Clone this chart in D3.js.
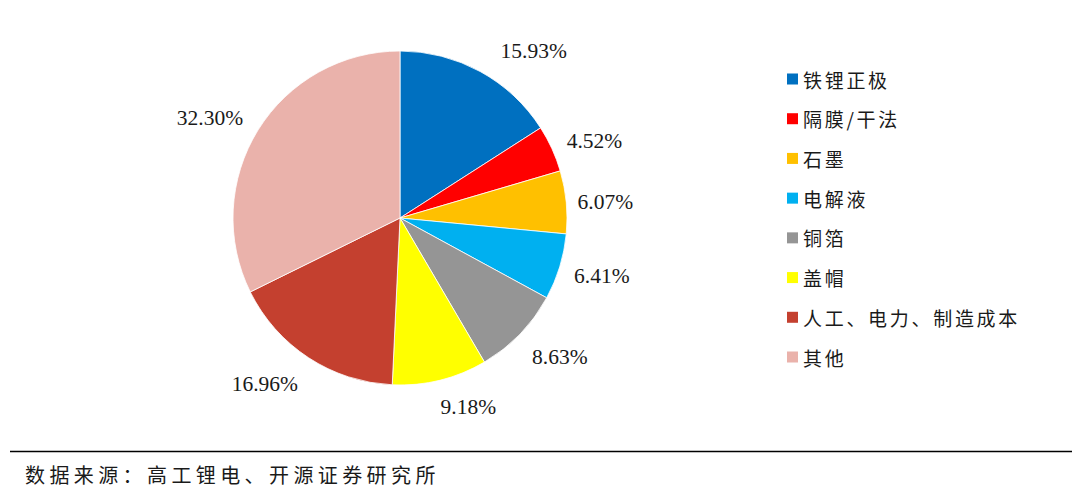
<!DOCTYPE html>
<html>
<head>
<meta charset="utf-8">
<script src="https://cdn.jsdelivr.net/npm/d3@7"></script>
<style>
  html, body { margin: 0; padding: 0; background: #ffffff; }
  svg { display: block; }
</style>
</head>
<body>
<svg id="chart" width="1080" height="498"></svg>
<script>
const categories = ["铁锂正极", "隔膜/干法", "石墨", "电解液", "铜箔", "盖帽", "人工、电力、制造成本", "其他"];
const values = [15.93, 4.52, 6.07, 6.41, 8.63, 9.18, 16.96, 32.30];
const colors = ["#0070C0", "#FF0000", "#FFC000", "#00B0F0", "#959595", "#FFFF00", "#C4402F", "#EAB2AB"];
const labelNudgeDeg = [10, 3, 1, -1, -3, -6, 6, -4];
const labelDist = [214, 209, 206, 210, 212, 201, 214, 215];
const sourceText = "数据来源：高工锂电、开源证券研究所";

const svg = d3.select("#chart");
const cx = 400, cy = 218, R = 167;

const pie = d3.pie().sort(null).value(d => d);
const arcs = pie(values);
const arc = d3.arc().innerRadius(0).outerRadius(R);

const g = svg.append("g").attr("transform", `translate(${cx},${cy})`);
g.selectAll("path.slice")
  .data(arcs)
  .join("path")
  .attr("class", "slice")
  .attr("d", arc)
  .attr("fill", (d, i) => colors[i])
  .attr("stroke", "#ffffff")
  .attr("stroke-width", 0.8);

const labelAngle = (d, i) => (d.startAngle + d.endAngle) / 2 + labelNudgeDeg[i] * Math.PI / 180;
g.selectAll("text.lbl")
  .data(arcs)
  .join("text")
  .attr("class", "lbl")
  .attr("x", (d, i) => labelDist[i] * Math.sin(labelAngle(d, i)))
  .attr("y", (d, i) => -labelDist[i] * Math.cos(labelAngle(d, i)))
  .attr("text-anchor", "middle")
  .attr("dominant-baseline", "central")
  .attr("font-family", "'Liberation Serif', 'Times New Roman', serif")
  .attr("font-size", 21.5)
  .attr("fill", "#1a1a1a")
  .text(d => d.value.toFixed(2) + "%");

// Legend
const legY = d3.scalePoint().domain(categories).range([79, 357]);
const leg = svg.append("g");
const items = leg.selectAll("g.item")
  .data(categories)
  .join("g")
  .attr("class", "item")
  .attr("transform", d => `translate(787,${legY(d)})`);
items.append("rect")
  .attr("x", 0).attr("y", -5.5)
  .attr("width", 11).attr("height", 11)
  .attr("fill", (d, i) => colors[i]);
items.append("text")
  .attr("x", 16).attr("y", 0)
  .attr("dominant-baseline", "central")
  .attr("font-family", "'Noto Sans CJK SC', sans-serif")
  .attr("font-size", 19)
  .attr("letter-spacing", 2.7)
  .attr("fill", "#1a1a1a")
  .text(d => d);

// Footer
svg.append("line")
  .attr("x1", 10).attr("x2", 1072)
  .attr("y1", 451.5).attr("y2", 451.5)
  .attr("stroke", "#000").attr("stroke-width", 1.5);
svg.append("text")
  .attr("x", 25).attr("y", 474)
  .attr("dominant-baseline", "central")
  .attr("font-family", "'Noto Sans CJK SC', sans-serif")
  .attr("font-size", 20)
  .attr("letter-spacing", 4.4)
  .attr("fill", "#1a1a1a")
  .text(sourceText);
</script>
</body>
</html>
